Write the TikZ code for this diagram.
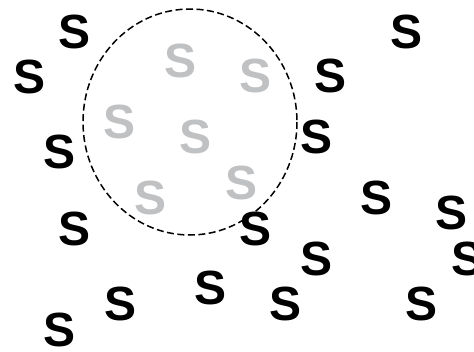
\documentclass[tikz,border=0pt]{standalone}
\usepackage{fontspec}
\setmainfont{Liberation Sans}
\definecolor{lightS}{RGB}{192,193,195}
\tikzset{
  letter/.style={font=\fontsize{48}{48}\selectfont\bfseries, inner sep=0pt, anchor=center},
  blk/.style={letter, text=black},
  gry/.style={letter, text=lightS},
  regionline/.style={draw=black, line width=1.5pt, dash pattern=on 7pt off 3.5pt}
}
\begin{document}
\begin{tikzpicture}[x=1pt,y=-1pt]
\useasboundingbox (0,0) rectangle (474,351);
% dashed region
\draw[regionline] (190,122) ellipse [x radius=107, y radius=113];
% black letters
\node[blk] (s1) at (75,32) {S};
\node[blk] (s2) at (30,77) {S};
\node[blk] (s3) at (60,152) {S};
\node[blk] (s4) at (75,229) {S};
\node[blk] (s5) at (121,304) {S};
\node[blk] (s6) at (60,330) {S};
\node[blk] (s7) at (211,288) {S};
\node[blk] (s8) at (286,304) {S};
\node[blk] (s9) at (256,229) {S};
\node[blk] (s10) at (317,259) {S};
\node[blk] (s11) at (331,76) {S};
\node[blk] (s12) at (317,137) {S};
\node[blk] (s13) at (407,32) {S};
\node[blk] (s14) at (377,198) {S};
\node[blk] (s15) at (452,213) {S};
\node[blk] (s16) at (468,259) {S};
\node[blk] (s17) at (422,304) {S};
% grey letters
\node[gry] (g1) at (181,61) {S};
\node[gry] (g2) at (256,76) {S};
\node[gry] (g3) at (120,122) {S};
\node[gry] (g4) at (196,137) {S};
\node[gry] (g5) at (151,198) {S};
\node[gry] (g6) at (242,183) {S};
\end{tikzpicture}
\end{document}
